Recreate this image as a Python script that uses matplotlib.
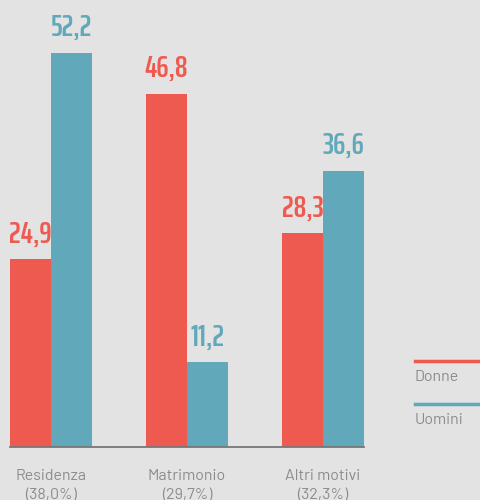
import matplotlib.pyplot as plt
import numpy as np
from matplotlib.lines import Line2D

categories = ['Residenza\n(38,0%)', 'Matrimonio\n(29,7%)', 'Altri motivi\n(32,3%)']
donne = [24.9, 46.8, 28.3]
uomini = [52.2, 11.2, 36.6]
series_names = ['Donne', 'Uomini']

red = '#ee5a4f'
blue = '#61a8bb'
bg = '#e3e3e3'
grey = '#8c8c8c'

fig = plt.figure(figsize=(4.81, 5.0), dpi=100, facecolor=bg)
ax = fig.add_axes([10/481, 53/500, 354/481, 447/500], facecolor=bg)

x = np.arange(len(categories))
w = 0.3015
ax.bar(x - w/2, donne, w, color=red)
ax.bar(x + w/2, uomini, w, color=blue)

font = dict(family=['Saira ExtraCondensed', 'DejaVu Sans'], weight=600, fontsize=22.5)
for i in range(len(x)):
    ax.text(x[i] - w/2, donne[i] + 1.4, f'{donne[i]:.1f}'.replace('.', ','),
            ha='center', va='bottom', color=red, **font)
    ax.text(x[i] + w/2, uomini[i] + 1.4, f'{uomini[i]:.1f}'.replace('.', ','),
            ha='center', va='bottom', color=blue, **font)

ax.set_xlim(-w, 2 + w)
ax.set_ylim(0, 447/7.55)
for s in ['top', 'right', 'left']:
    ax.spines[s].set_visible(False)
ax.spines['bottom'].set_color('#777777')
ax.spines['bottom'].set_linewidth(1.3)
ax.set_yticks([])
ax.set_xticks(x)
ax.set_xticklabels(categories, color=grey, fontsize=11.5, linespacing=1.4,
                   family=['Barlow', 'DejaVu Sans'])
ax.tick_params(axis='x', length=0, pad=16)

# legend
for yy, c, name in [(361, red, series_names[0]), (404, blue, series_names[1])]:
    fig.add_artist(Line2D([415/481, 1.0], [1 - yy/500, 1 - yy/500],
                          color=c, lw=2.5, transform=fig.transFigure))
    fig.text(415/481, 1 - (yy + 16)/500, name, color=grey, fontsize=11.5,
             va='center', ha='left', family=['Barlow', 'DejaVu Sans'])

fig.savefig('out.png', dpi=100, facecolor=bg)
